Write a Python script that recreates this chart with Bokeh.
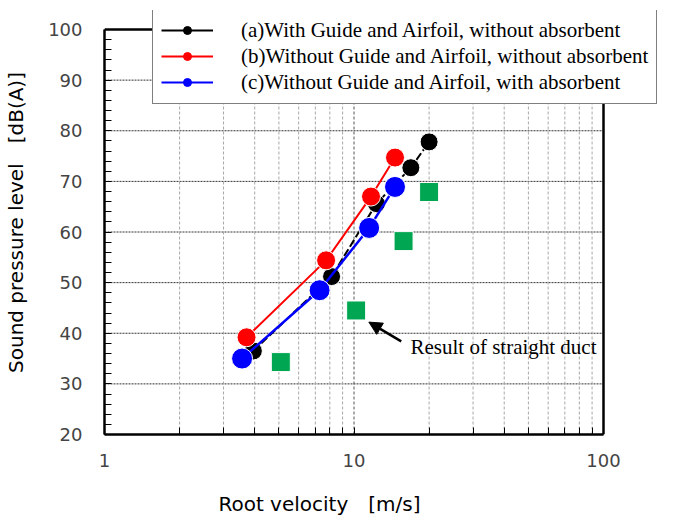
import math
from bokeh.plotting import figure
from bokeh.models import (Range1d, FixedTicker, Legend, LegendItem,
                          Arrow, NormalHead, Label, ColumnDataSource, BasicTickFormatter)
from bokeh.embed import file_html
from bokeh.resources import INLINE

# ---- data ----
a_x = [3.95, 8.13, 12.3, 16.9, 20.0]
a_y = [36.5, 51.2, 65.6, 72.7, 77.8]
b_x = [3.71, 7.73, 11.7, 14.6]
b_y = [39.2, 54.4, 67.0, 74.7]
c_x = [3.56, 7.28, 11.5, 14.6]
c_y = [35.0, 48.5, 60.8, 68.9]
duct_x = [5.09, 10.2, 15.8, 20.0]
duct_y = [34.3, 44.5, 58.2, 67.9]

labels = ["(a)With Guide and Airfoil, without absorbent",
          "(b)Without Guide and Airfoil, without absorbent",
          "(c)Without Guide and Airfoil, with absorbent"]
x_ticks = [1, 10, 100]
x_minor = [2, 3, 4, 5, 6, 7, 8, 9, 20, 30, 40, 50, 60, 70, 80, 90]
y_ticks = [20, 30, 40, 50, 60, 70, 80, 90, 100]
y_minor = [v for v in range(20, 101, 2) if v % 10]

annot_text = "Result of straight duct"
arrow_tip = (11.47, 42.2)
arrow_tail = (15.46, 38.4)
annot_pos = (16.84, 37.25)

X0, X1 = 1, 100
Y0, Y1 = 20, 100

# frame geometry: the data box (1..100, 20..100) is 499 x 405 px; the frame is
# extended to the right and top so the legend may overhang the box as in the reference
W, H = 674, 522
left_px, bottom_px, top_px = 104, 88, 10
box_w, box_h = 499, 405
frame_w = W - left_px
frame_h = H - bottom_px - top_px
x_end = 10 ** (math.log10(X1 / X0) * frame_w / box_w)
y_end = Y0 + (Y1 - Y0) * frame_h / box_h

p = figure(width=W, height=H, x_axis_type="log", output_backend="svg",
           toolbar_location=None, x_range=Range1d(X0, x_end), y_range=Range1d(Y0, y_end),
           min_border_left=left_px, min_border_right=0, min_border_top=top_px,
           min_border_bottom=bottom_px)
p.outline_line_color = None
p.background_fill_color = "white"
p.border_fill_color = "white"
p.xgrid.visible = False
p.ygrid.visible = False

# axes
xa = p.xaxis[0]
xa.ticker = FixedTicker(ticks=x_ticks, minor_ticks=x_minor)
xa.formatter = BasicTickFormatter()
xa.major_label_overrides = {1: "1", 10: "10", 100: "100"}
xa.bounds = (X0, X1)
ya = p.yaxis[0]
ya.ticker = FixedTicker(ticks=y_ticks, minor_ticks=y_minor)
ya.bounds = (Y0, Y1)
for ax in (xa, ya):
    ax.axis_line_color = "black"
    ax.axis_line_width = 2.5
    ax.major_tick_in = 7
    ax.major_tick_out = 0
    ax.minor_tick_in = 7
    ax.minor_tick_out = 0
    ax.major_tick_line_color = "black"
    ax.minor_tick_line_color = "black"
    ax.major_tick_line_width = 1
    ax.minor_tick_line_width = 1
    ax.major_label_text_font = "DejaVu Sans"
    ax.major_label_text_font_size = "18px"
    ax.major_label_text_color = "#444444"
    ax.axis_label_text_font = "DejaVu Sans"
    ax.axis_label_text_font_style = "normal"
    ax.axis_label_text_color = "black"
# trailing em spaces keep the title centred under the 1..100 box, not the wider frame
xa.axis_label = "Root velocity\u2003[m/s]" + "\u2003" * 7
xa.axis_label_text_font_size = "20px"
xa.major_label_standoff = 19
xa.axis_label_standoff = 22
ya.axis_label = "Sound pressure level\u2003[dB(A)]"
ya.axis_label_text_font_size = "20px"
ya.major_label_standoff = 22
ya.axis_label_standoff = 17

# grid lines (dotted), limited to the 1..100 x 20..100 box
hy = [v for v in y_ticks if Y0 < v < Y1]
p.segment(x0=[X0] * len(hy), y0=hy, x1=[X1] * len(hy), y1=hy,
          line_color="#333333", line_dash="2 1", line_width=1)
p.segment(x0=x_minor, y0=[Y0] * len(x_minor), x1=x_minor, y1=[Y1] * len(x_minor),
          line_color="#a8a8a8", line_dash="3 2", line_width=1)
p.segment(x0=[10], y0=[Y0], x1=[10], y1=[Y1], line_color="#555555", line_dash="3 2", line_width=1)
# top and right edges of the box
p.segment(x0=[X0, X1], y0=[Y1, Y0], x1=[X1, X1], y1=[Y1, Y1], line_color="black", line_width=2.5)

# series
p.line(a_x, a_y, line_color="black", line_width=2, line_dash="8 3")
p.scatter(a_x, a_y, marker="circle", size=18, fill_color="black", line_color="white", line_width=1)
p.line(b_x, b_y, line_color="#ff0000", line_width=2)
p.scatter(b_x, b_y, marker="circle", size=19, fill_color="#ff0000", line_color="white", line_width=1)
p.line(c_x, c_y, line_color="#0000ff", line_width=2.5)
p.scatter(c_x, c_y, marker="circle", size=21, fill_color="#0000ff", line_color="white", line_width=1)
p.scatter(duct_x, duct_y, marker="square", size=19, fill_color="#00a651", line_color="white", line_width=1)

# annotation
p.add_layout(Arrow(end=NormalHead(size=13, fill_color="black", line_color="black"),
                   x_start=arrow_tail[0], y_start=arrow_tail[1],
                   x_end=arrow_tip[0], y_end=arrow_tip[1],
                   line_color="black", line_width=2.5))
p.add_layout(Label(x=annot_pos[0], y=annot_pos[1], text=annot_text,
                   text_font="Liberation Serif", text_font_size="21px",
                   text_baseline="middle", text_color="black"))

# legend (proxy renderers drawn with solid lines)
nan = float("nan")
items = []
for lab, col, ms in zip(labels, ["black", "#ff0000", "#0000ff"], [9, 9, 12]):
    src = ColumnDataSource(data=dict(x=[nan], y=[nan]))
    lr = p.line("x", "y", source=src, line_color=col, line_width=2)
    sr = p.scatter("x", "y", source=src, marker="circle", size=ms, fill_color=col, line_color=col)
    items.append(LegendItem(label=lab, renderers=[lr, sr]))
legend = Legend(items=items, location=(48, 330), label_text_font="Liberation Serif",
                label_text_font_size="21px", label_text_color="black",
                label_height=26, glyph_height=20,
                glyph_width=52, label_standoff=28, padding=8, spacing=0, margin=0,
                border_line_color="black", border_line_width=1,
                background_fill_color="white", background_fill_alpha=1.0)
p.add_layout(legend)

open("out.html", "w").write(file_html(p, INLINE))
